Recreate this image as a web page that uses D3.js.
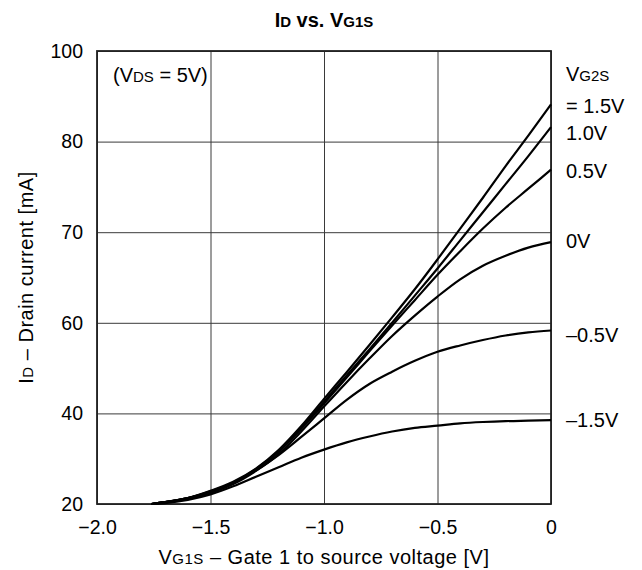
<!DOCTYPE html>
<html>
<head>
<meta charset="utf-8">
<script src="https://cdn.jsdelivr.net/npm/d3@7"></script>
<style>
  body { margin: 0; background: #fff; }
  svg { font-family: "Liberation Sans", Arial, sans-serif; }
</style>
</head>
<body>
<svg id="chart" width="642" height="570"></svg>
<script>
// VG1S sweep [V]
const vg1s = [-1.76, -1.7, -1.6, -1.5, -1.4, -1.3, -1.2, -1.1, -1.0, -0.9,
  -0.8, -0.7, -0.6, -0.5, -0.4, -0.3, -0.2, -0.1, 0];

// ID [mA] for each VG2S
const idVg2s15 = [20, 20.4, 21.3, 22.9, 24.9, 27.8, 31.9, 37.2, 43.2, 49.1,
  55.1, 60.6, 63.7, 67.0, 70.4, 73.8, 77.3, 81.3, 88.2];
const idVg2s10 = [20, 20.4, 21.3, 22.8, 24.7, 27.7, 31.7, 36.9, 42.6, 48.4,
  54.1, 60.0, 63.0, 66.0, 69.1, 72.2, 75.3, 78.4, 83.2];
const idVg2s05 = [20, 20.4, 21.3, 22.6, 24.6, 27.6, 31.5, 36.6, 42.2, 47.9,
  53.7, 59.4, 62.5, 65.3, 67.9, 70.4, 72.7, 74.8, 76.9];
const idVg2s0 = [20, 20.4, 21.3, 22.5, 24.4, 27.3, 31.0, 36.0, 41.5, 46.9,
  52.1, 57.1, 60.8, 62.9, 64.8, 66.3, 67.4, 68.3, 68.9];
const idVg2sM05 = [20, 20.4, 21.2, 22.5, 24.7, 27.4, 30.8, 34.8, 38.9, 43.0,
  46.5, 49.2, 51.6, 53.6, 55.0, 56.2, 57.2, 57.9, 58.3];
const idVg2sM15 = [20, 20.2, 20.9, 22.1, 23.9, 26.0, 28.1, 30.2, 32.0, 33.6,
  34.9, 36.0, 36.8, 37.3, 37.8, 38.1, 38.3, 38.4, 38.5];

const seriesLabels = ['= 1.5V', '1.0V', '0.5V', '0V', '\u20130.5V', '\u20131.5V'];
const xTicks = [-2.0, -1.5, -1.0, -0.5, 0];
const yTicks = [20, 40, 60, 70, 80, 100];

const series = [idVg2s15, idVg2s10, idVg2s05, idVg2s0, idVg2sM05, idVg2sM15]
  .map((ids, i) => ({
    label: seriesLabels[i],
    points: vg1s.map((v, j) => [v, ids[j]])
  }));

const margin = { top: 51, right: 91, bottom: 66, left: 97 };
const width = 642 - margin.left - margin.right;
const height = 570 - margin.top - margin.bottom;

const svg = d3.select('#chart');
const g = svg.append('g')
  .attr('transform', `translate(${margin.left},${margin.top})`);

const x = d3.scaleLinear().domain([-2, 0]).range([0, width]);
// the printed axis spaces its labels evenly, so the scale is piecewise
const y = d3.scaleLinear()
  .domain(yTicks)
  .range(yTicks.map((d, i) => height - i * height / (yTicks.length - 1)));

// write text where some letters are small caps subscripts (ID, VDS ...)
function richText(sel, parts, big, small) {
  parts.forEach(([str, isSmall]) => {
    sel.append('tspan')
      .attr('font-size', isSmall ? small : big)
      .text(str);
  });
  return sel;
}

// grid + tick labels
const xAxis = g.append('g')
  .attr('transform', `translate(0,${height})`)
  .call(d3.axisBottom(x)
    .tickValues(xTicks)
    .tickSize(-height)
    .tickPadding(16)
    .tickFormat(d => d === 0 ? '0' : d3.format('.1f')(d).replace('-', '\u2013')));

const yAxis = g.append('g')
  .call(d3.axisLeft(y)
    .tickValues(yTicks)
    .tickSize(-width)
    .tickPadding(14)
    .tickFormat(d3.format('d')));

[xAxis, yAxis].forEach(ax => {
  ax.select('.domain').remove();
  ax.selectAll('.tick line').attr('stroke', '#3a3a3a').attr('stroke-width', 1);
  ax.selectAll('.tick text')
    .attr('fill', '#000')
    .attr('font-size', 19.5)
    .attr('font-family', '"Liberation Sans", Arial, sans-serif');
});

// frame
g.append('rect')
  .attr('width', width)
  .attr('height', height)
  .attr('fill', 'none')
  .attr('stroke', '#222')
  .attr('stroke-width', 1.8);

// curves
const line = d3.line()
  .x(d => x(d[0]))
  .y(d => y(d[1]))
  .curve(d3.curveMonotoneX);

g.selectAll('.curve')
  .data(series)
  .enter()
  .append('path')
  .attr('class', 'curve')
  .attr('d', d => line(d.points))
  .attr('fill', 'none')
  .attr('stroke', '#000')
  .attr('stroke-width', 2.2)
  .attr('stroke-linejoin', 'round');

// right-hand curve labels
const labelNudge = [1, 6, 1, -1, 4, 0];
g.selectAll('.curve-label')
  .data(series)
  .enter()
  .append('text')
  .attr('class', 'curve-label')
  .attr('x', width + 15)
  .attr('y', (d, i) => y(d.points[d.points.length - 1][1]) + labelNudge[i])
  .attr('dy', '0.36em')
  .attr('font-size', 20)
  .text(d => d.label);

richText(g.append('text')
  .attr('x', width + 15)
  .attr('y', y(idVg2s15[idVg2s15.length - 1]) - 29)
  .attr('dy', '0.36em'), [['V', false], ['G2S', true]], 20, 15);

// condition note
richText(g.append('text')
  .attr('x', 16)
  .attr('y', 31), [['(V', false], ['DS', true], [' = 5V)', false]], 20, 15);

// title
richText(svg.append('text')
  .attr('x', margin.left + width / 2)
  .attr('y', 27)
  .attr('text-anchor', 'middle')
  .attr('font-weight', 'bold'),
  [['I', false], ['D', true], [' vs. V', false], ['G1S', true]], 20, 15);

// axis titles
richText(svg.append('text')
  .attr('x', margin.left + width / 2)
  .attr('y', 564)
  .attr('text-anchor', 'middle')
  .attr('letter-spacing', 0.5),
  [['V', false], ['G1S', true], [' \u2013 Gate 1 to source voltage [V]', false]], 20, 15);

richText(svg.append('text')
  .attr('transform', `translate(33,${margin.top + height / 2}) rotate(-90)`)
  .attr('text-anchor', 'middle')
  .attr('letter-spacing', 0.5),
  [['I', false], ['D', true], [' \u2013 Drain current [mA]', false]], 20, 15);
</script>
</body>
</html>
